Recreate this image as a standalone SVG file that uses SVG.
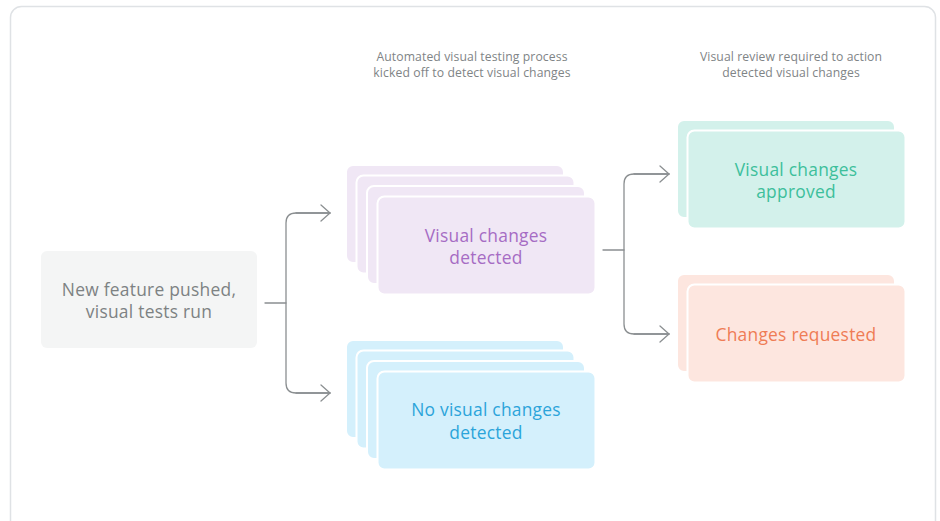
<svg xmlns="http://www.w3.org/2000/svg" width="940" height="521" viewBox="0 0 940 521">
  <defs>
    <style>
      .frame { fill: #ffffff; stroke: #dfe2e5; stroke-width: 1.5; }
      .card { stroke: #ffffff; stroke-width: 2; }
      .purple { fill: #f0e7f5; }
      .blue { fill: #d4f0fc; }
      .green { fill: #d3f1eb; }
      .orange { fill: #fde6df; }
      .gray { fill: #f4f5f5; }
      .label { font-family: "Open Sans", Lato, sans-serif; font-size: 17.4px; letter-spacing: 0.25px; text-anchor: middle; }
      .note { font-family: "Open Sans", Lato, sans-serif; font-size: 12.2px; letter-spacing: 0.1px; fill: #808486; text-anchor: middle; }
      .wire { fill: none; stroke: #8b8f91; stroke-width: 1.3; stroke-linejoin: round; stroke-linecap: round; }
    </style>
    <marker id="chev" markerWidth="12" markerHeight="20" refX="10" refY="9" orient="auto" markerUnits="userSpaceOnUse">
      <path d="M1,1 L10,9 L1,17" fill="none" stroke="#8b8f91" stroke-width="1.3" stroke-linecap="round" stroke-linejoin="round"/>
    </marker>
  </defs>

  <!-- outer panel -->
  <rect class="frame" x="10.5" y="6.5" width="925" height="540" rx="11"/>

  <!-- column captions -->
  <g id="caption-automated">
    <text class="note" x="472" y="61">Automated visual testing process</text>
    <text class="note" x="472" y="77">kicked off to detect visual changes</text>
  </g>
  <g id="caption-review">
    <text class="note" x="791" y="61">Visual review required to action</text>
    <text class="note" x="791" y="77">detected visual changes</text>
  </g>

  <!-- connectors -->
  <g id="connectors">
    <path class="wire" d="M265,303 H286"/>
    <path class="wire" d="M330,213 H296 Q286,213 286,223 V383 Q286,393 296,393 H330" />
    <path class="wire" d="M296,213 H330" marker-end="url(#chev)"/>
    <path class="wire" d="M296,393 H330" marker-end="url(#chev)"/>
    <path class="wire" d="M603,250 H624"/>
    <path class="wire" d="M669,174 H634 Q624,174 624,184 V324 Q624,334 634,334 H669"/>
    <path class="wire" d="M634,174 H669" marker-end="url(#chev)"/>
    <path class="wire" d="M634,334 H669" marker-end="url(#chev)"/>
  </g>

  <!-- start node -->
  <g id="node-push">
    <rect class="gray" x="41" y="251" width="216" height="97" rx="6"/>
    <text class="label" x="149" y="296" fill="#7d8283">New feature pushed,</text>
    <text class="label" x="149" y="318" fill="#7d8283">visual tests run</text>
  </g>

  <!-- visual changes detected (stack) -->
  <g id="node-changes">
    <rect class="card purple" x="346" y="165" width="218" height="98" rx="7"/>
    <rect class="card purple" x="356.5" y="175.5" width="218" height="98" rx="7"/>
    <rect class="card purple" x="367" y="186" width="218" height="98" rx="7"/>
    <rect class="card purple" x="377.5" y="196.5" width="218" height="98" rx="7"/>
    <text class="label" x="486" y="242" fill="#a66cc4">Visual changes</text>
    <text class="label" x="486" y="264" fill="#a66cc4">detected</text>
  </g>

  <!-- no visual changes detected (stack) -->
  <g id="node-nochanges">
    <rect class="card blue" x="346" y="340" width="218" height="98" rx="7"/>
    <rect class="card blue" x="356.5" y="350.5" width="218" height="98" rx="7"/>
    <rect class="card blue" x="367" y="361" width="218" height="98" rx="7"/>
    <rect class="card blue" x="377.5" y="371.5" width="218" height="98" rx="7"/>
    <text class="label" x="486" y="416" fill="#2ba4da">No visual changes</text>
    <text class="label" x="486" y="439" fill="#2ba4da">detected</text>
  </g>

  <!-- approved -->
  <g id="node-approved">
    <rect class="card green" x="677" y="120" width="218" height="98" rx="7"/>
    <rect class="card green" x="687.5" y="130.5" width="218" height="98" rx="7"/>
    <text class="label" x="796" y="176" fill="#3dbf9b">Visual changes</text>
    <text class="label" x="796" y="198" fill="#3dbf9b">approved</text>
  </g>

  <!-- changes requested -->
  <g id="node-requested">
    <rect class="card orange" x="677" y="274" width="218" height="98" rx="7"/>
    <rect class="card orange" x="687.5" y="284.5" width="218" height="98" rx="7"/>
    <text class="label" x="796" y="341" fill="#ef7c55">Changes requested</text>
  </g>
</svg>
